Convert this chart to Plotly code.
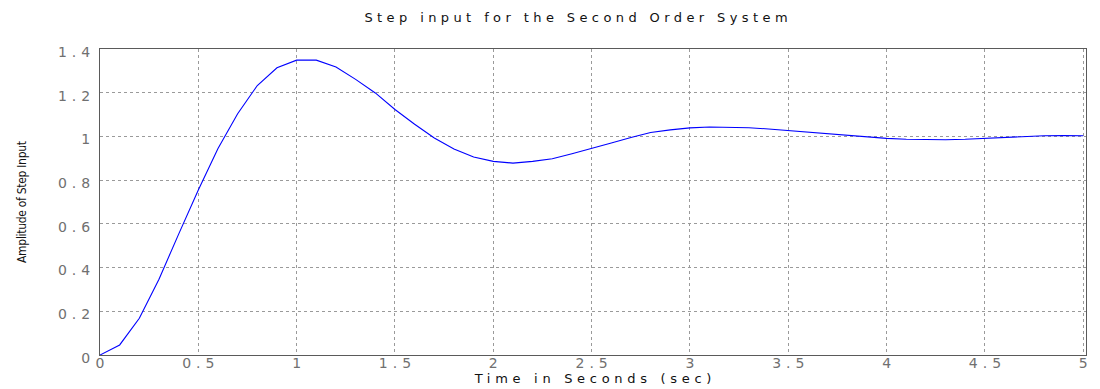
import plotly.graph_objects as go

# ---- data ----
time_s = [0.0, 0.1, 0.2, 0.3, 0.4, 0.5, 0.6, 0.7, 0.8, 0.9,
          1.0, 1.1, 1.2, 1.3, 1.4, 1.5, 1.6, 1.7, 1.8, 1.9,
          2.0, 2.1, 2.2, 2.3, 2.4, 2.5, 2.6, 2.7, 2.8, 2.9,
          3.0, 3.1, 3.2, 3.3, 3.4, 3.5, 3.6, 3.7, 3.8, 3.9,
          4.0, 4.1, 4.2, 4.3, 4.4, 4.5, 4.6, 4.7, 4.8, 4.9, 5.0]
amplitude = [0.000, 0.046, 0.168, 0.347, 0.553, 0.755, 0.945, 1.104, 1.233, 1.314,
             1.349, 1.349, 1.318, 1.261, 1.199, 1.123, 1.056, 0.993, 0.943, 0.906,
             0.886, 0.878, 0.886, 0.898, 0.921, 0.947, 0.970, 0.995, 1.018, 1.030,
             1.039, 1.043, 1.043, 1.040, 1.034, 1.027, 1.019, 1.011, 1.004, 0.997,
             0.991, 0.987, 0.985, 0.985, 0.987, 0.991, 0.997, 1.001, 1.003, 1.004, 1.003]

x_ticks = [0, 0.5, 1, 1.5, 2, 2.5, 3, 3.5, 4, 4.5, 5]
x_tick_labels = ["0", "0.5", "1", "1.5", "2", "2.5", "3", "3.5", "4", "4.5", "5"]
y_ticks = [0, 0.2, 0.4, 0.6, 0.8, 1.0, 1.2, 1.4]
y_tick_labels = ["0", "0.2", "0.4", "0.6", "0.8", "1", "1.2", "1.4"]

title_text = "Step input for the Second Order System"
x_title = "Time in Seconds (sec)"
y_title = "Amplitude of Step Input"


def spaced(s, px):
    # letter-spacing between characters, none after the last one
    if len(s) < 2:
        return s
    return f'<span style="letter-spacing:{px}px">{s[:-1]}</span>{s[-1]}'


FONT = "DejaVu Sans, Liberation Sans, Arial, sans-serif"
NARROW = "Liberation Sans Narrow, Arial Narrow, DejaVu Sans Condensed, sans-serif"

# the page body has an 8px default margin, so the figure is 8px smaller
W, H = 1092, 381

fig = go.Figure()
fig.add_trace(go.Scatter(
    x=time_s, y=amplitude, mode="lines",
    line=dict(color="#0000ff", width=1.1),
    showlegend=False, hoverinfo="x+y",
))

axis_common = dict(
    showline=True, mirror=True, linecolor="#5a5a5a", linewidth=1,
    showgrid=True, gridcolor="#9a9a9a", gridwidth=1, griddash="dot",
    zeroline=False, ticks="", automargin=False,
    tickfont=dict(family=FONT, size=14, color="#707070"),
)

fig.update_layout(
    width=W, height=H,
    margin=dict(l=92, r=14, t=41, b=34, autoexpand=False),
    paper_bgcolor="white", plot_bgcolor="white",
    title=dict(
        text=spaced(title_text, 4.4),
        font=dict(family=FONT, size=13, color="#111111"),
        xref="container", x=568 / W, xanchor="center",
        yref="container", y=1 - 9 / H, yanchor="middle",
        automargin=False,
    ),
    xaxis=dict(
        range=[0, 5.014],
        tickmode="array", tickvals=x_ticks,
        ticktext=[spaced(t, 5) for t in x_tick_labels],
        ticklabelstandoff=-5,
        title=dict(text=spaced(x_title, 4.7),
                   font=dict(family=FONT, size=13, color="#111111"),
                   standoff=1),
        **axis_common,
    ),
    yaxis=dict(
        range=[0, 1.4],
        tickmode="array", tickvals=y_ticks,
        ticktext=[spaced(t, 5) for t in y_tick_labels],
        ticklabelstandoff=6,
        ticklabelshift=3,
        title=dict(text=spaced(y_title, -0.3),
                   font=dict(family=NARROW, size=12, color="#111111"),
                   standoff=28),
        **axis_common,
    ),
)

fig.write_html("out.html")
